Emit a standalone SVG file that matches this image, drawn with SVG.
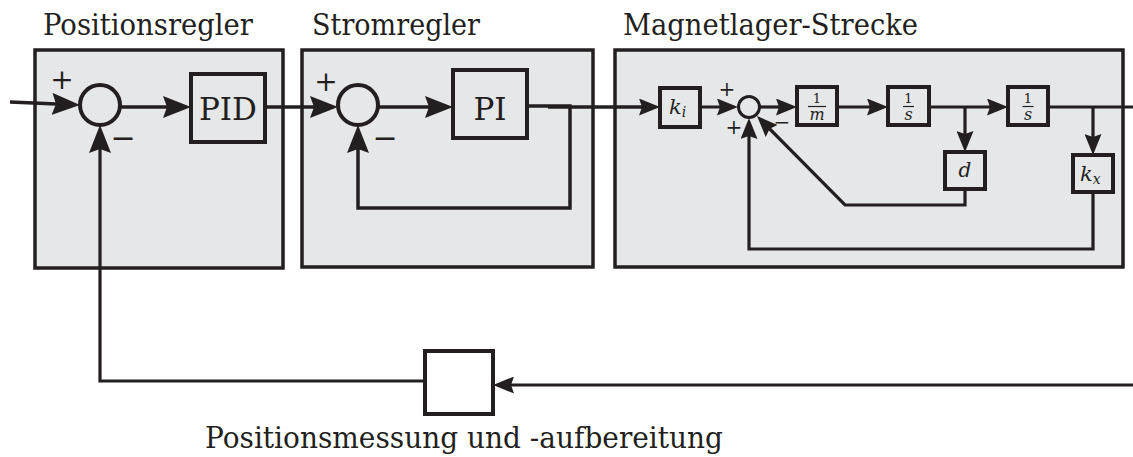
<svg xmlns="http://www.w3.org/2000/svg" width="1133" height="457" viewBox="0 0 1133 457">
<style>
.panel{fill:#e6e7e9;stroke:#231f20;stroke-width:3.5}
.blk{fill:#e6e7e9;stroke:#231f20;stroke-width:4}
.blkw{fill:#ffffff;stroke:#231f20;stroke-width:4}
.sum{fill:#e6e7e9;stroke:#231f20;stroke-width:4}
.sums{fill:#e6e7e9;stroke:#231f20;stroke-width:3}
.w{fill:none;stroke:#231f20;stroke-width:3.5;stroke-linejoin:miter}
.ws{fill:none;stroke:#231f20;stroke-width:3.2;stroke-linejoin:miter}
.big{marker-end:url(#ab)}
.sm{marker-end:url(#as)}
.t{font-family:'DejaVu Serif','Liberation Serif',serif;fill:#231f20}
.title{font-size:29px}
.m{font-family:'DejaVu Serif','Liberation Serif',serif;font-style:italic;fill:#231f20}
.sg{font-family:'DejaVu Serif','Liberation Serif',serif;fill:#231f20;text-anchor:middle;font-weight:200}
.bar{stroke:#231f20;stroke-width:1.2}
</style>
<defs>
<marker id="ab" markerUnits="userSpaceOnUse" viewBox="0 0 28 22" markerWidth="28" markerHeight="22" refX="22" refY="11" orient="auto">
<path d="M0,0 L28,11 L0,22 L4,11 Z" fill="#231f20"/>
</marker>
<marker id="as" markerUnits="userSpaceOnUse" viewBox="0 0 21 17" markerWidth="21" markerHeight="17" refX="16" refY="8.5" orient="auto">
<path d="M0,0 L21,8.5 L0,17 L3,8.5 Z" fill="#231f20"/>
</marker>
</defs>

<g id="panel-positionsregler">
<rect class="panel" x="35" y="50" width="248" height="218"/>
<text class="t title" x="43" y="35" textLength="210" lengthAdjust="spacingAndGlyphs">Positionsregler</text>
</g>
<g id="panel-stromregler">
<rect class="panel" x="302" y="50" width="291" height="217"/>
<text class="t title" x="312" y="35" textLength="168" lengthAdjust="spacingAndGlyphs">Stromregler</text>
</g>
<g id="panel-magnetlager">
<rect class="panel" x="615" y="50" width="508" height="217"/>
<text class="t title" x="623" y="35" textLength="295" lengthAdjust="spacingAndGlyphs">Magnetlager-Strecke</text>
</g>

<g id="connectors">
<path class="w big" d="M10,102 L74,104.8"/>
<path class="w big" d="M120,107 H185"/>
<path class="w big" d="M265,107 H332"/>
<path class="w big" d="M378,107 H447"/>
<path class="w big" d="M527,106 H570 V208 H358 V131"/>
<path class="w sm" d="M548,107 H655"/>
<path class="ws sm" d="M700,107 H733"/>
<path class="ws sm" d="M760,107 H792"/>
<path class="ws sm" d="M837,107 H883"/>
<path class="ws sm" d="M929,107 H1003"/>
<path class="ws sm" d="M965,107 V147"/>
<path class="ws" d="M1048,107 H1133"/>
<path class="ws sm" d="M1093,107 V150"/>
<path class="ws sm" d="M965,189 V205 H845 L760.5,119.6"/>
<path class="ws sm" d="M1093,192 V249 H749 V123"/>
<path class="ws sm" d="M1133,385 H498"/>
<path class="ws big" d="M425,381 H100 V131"/>
</g>

<g id="sum-position">
<circle class="sum" cx="100" cy="105" r="20"/>
<text class="sg" x="62" y="89" font-size="28">+</text>
<text class="sg" x="123" y="148" font-size="30">−</text>
</g>
<g id="pid">
<rect class="blk" x="191" y="74" width="74" height="68"/>
<text class="t" x="228" y="120" font-size="31" text-anchor="middle" textLength="58" lengthAdjust="spacingAndGlyphs">PID</text>
</g>
<g id="sum-strom">
<circle class="sum" cx="358" cy="105" r="20"/>
<text class="sg" x="326" y="91" font-size="28">+</text>
<text class="sg" x="385" y="148" font-size="30">−</text>
</g>
<g id="pi">
<rect class="blk" x="453" y="70" width="74" height="68"/>
<text class="t" x="490" y="120" font-size="31" text-anchor="middle">PI</text>
</g>

<g id="ki">
<rect class="blk" x="660" y="88" width="40" height="39"/>
<text class="m" x="669" y="114" font-size="21">k<tspan font-size="14" dy="3">i</tspan></text>
</g>
<g id="sum-magnet">
<circle class="sums" cx="749" cy="107" r="10.5"/>
<text class="sg" x="727" y="96" font-size="20">+</text>
<text class="sg" x="734" y="134" font-size="20">+</text>
<text class="sg" x="782" y="129" font-size="20">−</text>
</g>
<g id="inv-m">
<rect class="blk" x="797" y="87" width="40" height="38"/>
<text class="t" x="817" y="103" font-size="13" text-anchor="middle">1</text>
<line class="bar" x1="808" y1="106.5" x2="826" y2="106.5"/>
<text class="m" x="817" y="120" font-size="16" text-anchor="middle">m</text>
</g>
<g id="int-1">
<rect class="blk" x="888" y="87" width="41" height="38"/>
<text class="t" x="908.5" y="103" font-size="13" text-anchor="middle">1</text>
<line class="bar" x1="903" y1="106.5" x2="914" y2="106.5"/>
<text class="m" x="908.5" y="120" font-size="16" text-anchor="middle">s</text>
</g>
<g id="int-2">
<rect class="blk" x="1008" y="87" width="40" height="38"/>
<text class="t" x="1028" y="103" font-size="13" text-anchor="middle">1</text>
<line class="bar" x1="1022.5" y1="106.5" x2="1033.5" y2="106.5"/>
<text class="m" x="1028" y="120" font-size="16" text-anchor="middle">s</text>
</g>
<g id="d">
<rect class="blk" x="945" y="152" width="40" height="37"/>
<text class="m" x="965" y="177" font-size="20" text-anchor="middle">d</text>
</g>
<g id="kx">
<rect class="blk" x="1073" y="155" width="40" height="37"/>
<text class="m" x="1080" y="181" font-size="21">k<tspan font-size="14" dy="3">x</tspan></text>
</g>

<g id="messung">
<rect class="blkw" x="425" y="351" width="68" height="63"/>
<text class="t" x="205" y="448" font-size="29" textLength="518" lengthAdjust="spacingAndGlyphs">Positionsmessung und -aufbereitung</text>
</g>
</svg>
